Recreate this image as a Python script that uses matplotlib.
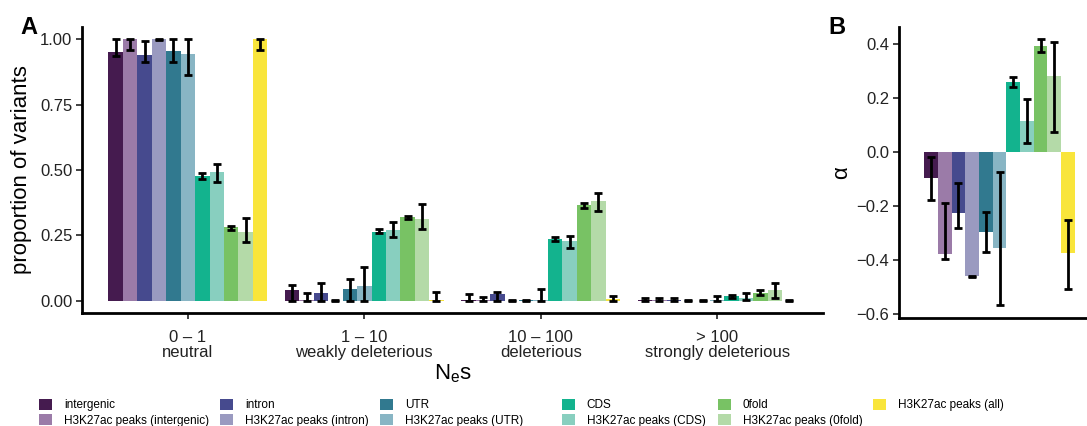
import matplotlib
matplotlib.use("Agg")
import matplotlib.pyplot as plt
import numpy as np
from matplotlib.patches import Patch

plt.rcParams['font.family'] = ['Liberation Sans', 'DejaVu Sans']
plt.rcParams['mathtext.fontset'] = 'custom'
plt.rcParams['mathtext.rm'] = 'Liberation Sans'
plt.rcParams['mathtext.it'] = 'Liberation Sans'

# annotation classes (hue)
labels = ['intergenic', 'H3K27ac peaks (intergenic)', 'intron', 'H3K27ac peaks (intron)',
          'UTR', 'H3K27ac peaks (UTR)', 'CDS', 'H3K27ac peaks (CDS)',
          '0fold', 'H3K27ac peaks (0fold)', 'H3K27ac peaks (all)']
colors = ['#451B4F', '#9B7BA8', '#464A8E', '#9A9AC0', '#31798F', '#88B5C4',
          '#13B38E', '#88CFBF', '#78C264', '#B4DAA8', '#F9E53B']

# panel A: Nes bins
bins = ['0 – 1\nneutral', '1 – 10\nweakly deleterious', '10 – 100\ndeleterious',
        '> 100\nstrongly deleterious']
prop = [[0.949, 0.040, 0.005, 0.004],
        [1.000, 0.003, 0.003, 0.004],
        [0.938, 0.032, 0.025, 0.003],
        [1.000, 0.000, 0.001, 0.000],
        [0.954, 0.047, 0.002, 0.001],
        [0.943, 0.058, 0.004, 0.003],
        [0.477, 0.265, 0.238, 0.018],
        [0.492, 0.270, 0.227, 0.011],
        [0.281, 0.320, 0.367, 0.032],
        [0.262, 0.312, 0.383, 0.040],
        [1.000, 0.003, 0.008, 0.000]]
prop_lo = [[0.934, 0.0, 0.0, 0.0],
           [0.958, 0.0, 0.0, 0.0],
           [0.912, 0.0, 0.0, 0.0],
           [0.997, 0.0, 0.0, 0.0],
           [0.912, 0.0, 0.0, 0.0],
           [0.864, 0.0, 0.0, 0.0],
           [0.466, 0.258, 0.230, 0.011],
           [0.454, 0.243, 0.203, 0.004],
           [0.271, 0.313, 0.354, 0.023],
           [0.225, 0.275, 0.343, 0.013],
           [0.958, 0.0, 0.0, 0.0]]
prop_hi = [[1.000, 0.060, 0.025, 0.012],
           [1.000, 0.030, 0.015, 0.010],
           [0.994, 0.070, 0.035, 0.012],
           [1.000, 0.002, 0.002, 0.002],
           [1.000, 0.085, 0.002, 0.002],
           [1.000, 0.130, 0.045, 0.018],
           [0.489, 0.275, 0.245, 0.024],
           [0.523, 0.300, 0.248, 0.030],
           [0.288, 0.325, 0.373, 0.040],
           [0.317, 0.370, 0.411, 0.070],
           [1.000, 0.035, 0.020, 0.003]]

# panel B: alpha
alpha = [-0.096, -0.379, -0.226, -0.462, -0.296, -0.356, 0.258, 0.112, 0.390, 0.280, -0.374]
alpha_lo = [-0.179, -0.399, -0.283, -0.465, -0.373, -0.569, 0.238, 0.031, 0.370, 0.073, -0.507]
alpha_hi = [-0.019, -0.189, -0.116, -0.459, -0.223, -0.075, 0.275, 0.195, 0.416, 0.407, -0.253]

W, H = 1087, 426
fig = plt.figure(figsize=(W / 100, H / 100), dpi=100)

def style(ax):
    for s in ['top', 'right']:
        ax.spines[s].set_visible(False)
    for s in ['left', 'bottom']:
        ax.spines[s].set_linewidth(2.0)
        ax.spines[s].set_color('black')
    ax.tick_params(length=4, width=1.3, color='#333333', labelsize=12,
                   labelcolor='#222222', pad=3)

n = len(labels)
group_w = 0.9
bw = group_w / n
eb = dict(fmt='none', ecolor='black', elinewidth=2.0, capsize=3, capthick=2.0, zorder=3)

# ---- A
axA = fig.add_axes([82 / W, 1 - 313 / H, 741 / W, 286 / H])
style(axA)
xc = np.arange(len(bins))
for i in range(n):
    xs = xc - group_w / 2 + bw * (i + 0.5)
    axA.bar(xs, prop[i], width=bw, color=colors[i], linewidth=0)
for i in range(n):
    xs = xc - group_w / 2 + bw * (i + 0.5)
    v = np.array(prop[i])
    lo = np.array(prop_lo[i]); hi = np.array(prop_hi[i])
    axA.errorbar(xs, v, yerr=[v - lo, hi - v], **eb)
axA.set_xlim(-0.6, 3.6)
axA.set_ylim(-0.046, 1.046)
axA.set_yticks([0, 0.25, 0.5, 0.75, 1.0])
axA.set_yticklabels(['0.00', '0.25', '0.50', '0.75', '1.00'])
axA.set_xticks(xc)
axA.set_xticklabels(bins, linespacing=1.0)
axA.tick_params(axis='x', pad=8)
axA.set_ylabel('proportion of variants', fontsize=16, labelpad=6)
axA.set_xlabel(r'N$_{\mathrm{e}}$s', fontsize=16, labelpad=2)

# ---- B
axB = fig.add_axes([899 / W, 1 - 318 / H, 188 / W, 291 / H])
style(axB)
xb = 1 - group_w / 2 + bw * (np.arange(n) + 0.5)
axB.bar(xb, alpha, width=bw, color=colors, linewidth=0)
a = np.array(alpha)
axB.errorbar(xb, a, yerr=[a - np.array(alpha_lo), np.array(alpha_hi) - a], **eb)
axB.set_xlim(0.4, 0.4 + 188 / 167.5)
axB.set_ylim(-0.616, 0.462)
axB.set_yticks([-0.6, -0.4, -0.2, 0.0, 0.2, 0.4])
axB.set_yticklabels(['−0.6', '−0.4', '−0.2', '0.0', '0.2', '0.4'])
axB.set_xticks([])
axB.set_ylabel('α', fontsize=16, labelpad=3)

fig.text(20 / W, 1 - 28 / H, 'A', fontsize=17, fontweight='bold', va='center')
fig.text(828 / W, 1 - 28 / H, 'B', fontsize=17, fontweight='bold', va='center')

# legend: one block per column, as in the original layout
handles = [Patch(facecolor=c, edgecolor='none') for c in colors]
col_x = [39, 220, 380, 562, 718, 873]
for c, x in enumerate(col_x):
    lg = fig.legend(handles[2 * c:2 * c + 2], labels[2 * c:2 * c + 2], loc='upper left',
                    bbox_to_anchor=(x / W, 1 - 398.5 / H), frameon=False, fontsize=8.5,
                    handlelength=1.1, handleheight=1.1, handletextpad=1.0,
                    labelspacing=0.25, borderpad=0, borderaxespad=0)

fig.savefig('out.png', dpi=100)
